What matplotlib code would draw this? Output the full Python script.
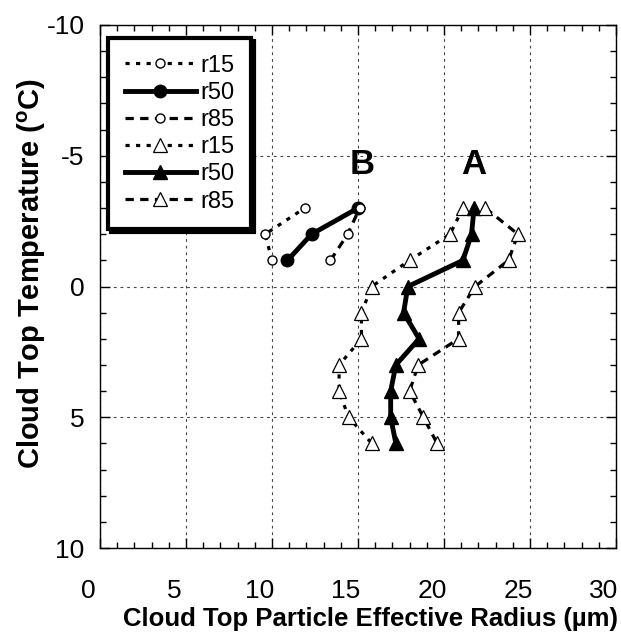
import matplotlib
matplotlib.use("Agg")
import matplotlib.pyplot as plt
import matplotlib.transforms as mtransforms
from matplotlib.ticker import MultipleLocator

plt.rcParams["font.family"] = ["Liberation Sans", "DejaVu Sans"]
plt.rcParams["mathtext.fontset"] = "custom"
plt.rcParams["mathtext.rm"] = "Liberation Sans"
plt.rcParams["mathtext.bf"] = "Liberation Sans:bold"
plt.rcParams["axes.unicode_minus"] = False

# 구름 B (원 마커) - 온도 -1 ~ -3
temp_b = [-1, -2, -3]
b_r15 = [10.0, 9.6, 11.9]
b_r50 = [10.9, 12.3, 15.0]
b_r85 = [13.4, 14.4, 15.1]

# 구름 A (삼각형 마커) - 온도 -3 ~ 6
temp_a = [-3, -2, -1, 0, 1, 2, 3, 4, 5, 6]
a_r15 = [21.1, 20.35, 18.0, 15.8, 15.2, 15.2, 13.9, 13.9, 14.45, 15.8]
a_r50 = [21.75, 21.6, 21.1, 17.9, 17.65, 18.55, 17.2, 16.9, 16.9, 17.2]
a_r85 = [22.4, 24.3, 23.75, 21.8, 20.85, 20.85, 18.5, 18.0, 18.8, 19.6]

dot = (1.3, 2.0)
dash = (2.6, 2.0)

fig = plt.figure(figsize=(6.21, 6.38), dpi=100)
ax = fig.add_axes([100 / 621, 1 - 548 / 638, 516 / 621, 523 / 638])

open_c = dict(marker="o", markersize=6.5, markerfacecolor="white",
              markeredgecolor="black", markeredgewidth=1.0)
open_t = dict(marker="^", markersize=10, markerfacecolor="white",
              markeredgecolor="black", markeredgewidth=0.9)

ax.plot(b_r15, temp_b, color="black", lw=2.3, dashes=dot, label="r15", **open_c)
ax.plot(b_r50, temp_b, color="black", lw=3.5, marker="o", markersize=9, label="r50")
ax.plot(b_r85, temp_b, color="black", lw=2.3, dashes=dash, label="r85", **open_c)
ax.plot(a_r15, temp_a, color="black", lw=2.3, dashes=dot, label="r15", **open_t)
ax.plot(a_r50, temp_a, color="black", lw=3.5, marker="^", markersize=9.5, label="r50")
ax.plot(a_r85, temp_a, color="black", lw=2.3, dashes=dash, label="r85", **open_t)

ax.text(15.25, -4.65, "B", fontsize=25, fontweight="bold", ha="center", va="center")
ax.text(21.7, -4.65, "A", fontsize=25, fontweight="bold", ha="center", va="center")

ax.set_xlim(0, 30)
ax.set_ylim(10, -10)
ax.xaxis.set_major_locator(MultipleLocator(5))
ax.xaxis.set_minor_locator(MultipleLocator(1))
ax.yaxis.set_major_locator(MultipleLocator(5))
ax.yaxis.set_minor_locator(MultipleLocator(1))
ax.tick_params(which="both", direction="in", top=True, right=True, width=1, colors="black")
ax.tick_params(which="major", length=7)
ax.tick_params(which="minor", length=4.5)
ax.tick_params(axis="x", which="major", labelsize=19, pad=22)
ax.tick_params(axis="y", which="major", labelsize=19, pad=11)
ax.grid(True, which="major", color="#444444", lw=0.8, dashes=(2.5, 3.5))
for s in ax.spines.values():
    s.set_linewidth(1)

ax.set_xlabel("Cloud Top Particle Effective Radius (µm)", fontsize=18.5, fontweight="bold")
ax.xaxis.set_label_coords(0.525, -0.112)
ax.set_ylabel(r"Cloud Top Temperature ($^{\mathbf{o}}$C)", fontsize=21, fontweight="bold")
ax.yaxis.set_label_coords(-0.10, 0.525)

shift = mtransforms.ScaledTranslation(-12 / 100, 0, fig.dpi_scale_trans)
for lab in ax.get_xticklabels():
    lab.set_transform(lab.get_transform() + shift)

leg = ax.legend(loc="upper left", bbox_to_anchor=(0.016, 0.975), borderaxespad=0,
                fontsize=17, handlelength=3.0, handletextpad=0.2, labelspacing=0.22,
                borderpad=0.7, fancybox=False, framealpha=1, edgecolor="black",
                shadow={"color": "black", "alpha": 1})
leg.get_frame().set_linewidth(3)

fig.savefig("out.png", dpi=100)
